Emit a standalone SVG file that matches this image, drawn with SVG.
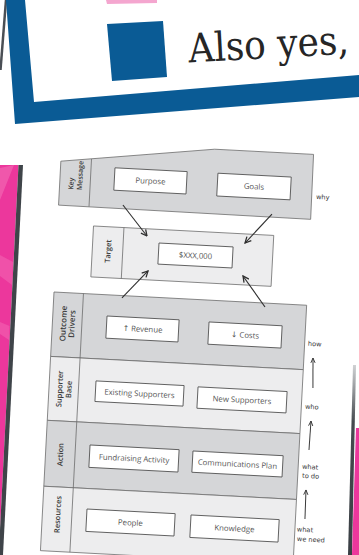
<svg xmlns="http://www.w3.org/2000/svg" width="359" height="555" viewBox="0 0 359 555">
<defs>
<style>
.rowd{fill:#d5d6d8;stroke:#6e6e6e;stroke-width:0.8}
.rowl{fill:#ededee;stroke:#6e6e6e;stroke-width:0.8}
.dv{stroke:#6e6e6e;stroke-width:0.8;fill:none}
.box{fill:#ffffff;stroke:#555;stroke-width:0.9}
.bt{font-family:"Open Sans","DejaVu Sans",sans-serif;font-size:7.8px;fill:#555;text-anchor:middle}
.lab{font-family:"Open Sans","DejaVu Sans",sans-serif;font-size:7.5px;font-weight:600;fill:#3a3a3a;text-anchor:middle}
.ann{font-family:"DejaVu Sans",sans-serif;font-size:6.6px;fill:#3a3a3a}
.arr{stroke:#2e2e2e;stroke-width:1.1;fill:none;marker-end:url(#ah)}
.ar2{stroke:#3a3a3a;stroke-width:1;fill:none;marker-end:url(#ah2)}
</style>
<marker id="ah" viewBox="0 0 10 10" refX="9" refY="5" markerWidth="7.5" markerHeight="7.5" orient="auto" markerUnits="userSpaceOnUse"><path d="M1,1 L9,5 L1,9" fill="none" stroke="#2e2e2e" stroke-width="1.7"/></marker>
<marker id="ah2" viewBox="0 0 10 10" refX="9" refY="5" markerWidth="6" markerHeight="6" orient="auto" markerUnits="userSpaceOnUse"><path d="M1,1.5 L9,5 L1,8.5" fill="none" stroke="#3a3a3a" stroke-width="1.6"/></marker>
<clipPath id="kmclip"><polygon points="0,-131 30.5,-135 30.5,-87 0,-87"/></clipPath>
<linearGradient id="edgeR" x1="0" y1="0" x2="0" y2="1"><stop offset="0" stop-color="#d0d2d4"/><stop offset="0.3" stop-color="#454a4f"/><stop offset="1" stop-color="#3a3f44"/></linearGradient>
</defs>
<rect width="359" height="555" fill="#ffffff"/>

<!-- poster at top -->
<g id="poster">
<line x1="6" y1="0" x2="0.5" y2="70" stroke="#4a4f55" stroke-width="2.5"/>
<polygon points="106,0 157,0 157,3 107,4" fill="#f4a6cf"/>
<polygon points="6,0 25,0 34,102 359,75 359,97 15,124" fill="#0a5b95"/>
<polygon points="107,24 163,21 167,77 112,81" fill="#0a5b95"/>
<text x="189" y="62.5" transform="rotate(-3.2 189 62.5)" font-family="'DejaVu Serif Condensed','DejaVu Serif',serif" font-stretch="condensed" font-size="40" fill="#262626">Also yes,</text>
</g>

<!-- background edges -->
<g id="edges">
<polygon points="0,165 18.5,165 0,530" fill="#ec379c"/>
<polygon points="0,168 14,165 0,200" fill="#f36cb6" opacity="0.6"/>
<polygon points="0,255 13,262 12,285 0,276" fill="#f36cb6" opacity="0.5"/>
<polygon points="0,322 9.5,326 9,340 0,334" fill="#f36cb6" opacity="0.5"/>
<polygon points="18.5,165 23,165 3,555 0,555 0,530" fill="#3f4449"/>
<polygon points="353,365 356,365 352,555 348,555" fill="url(#edgeR)"/>
<polygon points="356,428 359,428 359,555 352,555" fill="#ec379c"/>
</g>

<g id="diagram" transform="translate(54,292) rotate(3)">
<g id="key-message">
<polygon class="rowd" points="0,-131 30.5,-135 153,-151 252,-151 252.5,-86 0,-87"/>
<line class="dv" x1="30.5" y1="-135" x2="30.5" y2="-87"/>
<g clip-path="url(#kmclip)"><text class="lab" style="text-anchor:start;font-size:7px" transform="rotate(-90)"><tspan x="103" y="14">Key</tspan><tspan x="103" y="22.5">Message</tspan></text></g>
</g>
<g id="target">
<rect class="rowl" x="36" y="-68" width="180.5" height="51"/>
<line class="dv" x1="66.5" y1="-68" x2="66.5" y2="-17"/>
<text class="lab" transform="rotate(-90)" x="43.5" y="54.5">Target</text>
</g>
<g id="outcome-drivers">
<rect class="rowd" x="0" y="0" width="253" height="64.5"/>
<text class="lab" style="font-size:8px" transform="rotate(-90)"><tspan x="-31" y="13.8">Outcome</tspan><tspan x="-31" y="22.3">Drivers</tspan></text>
</g>
<g id="supporter-base">
<rect class="rowl" x="0" y="64.5" width="253" height="64"/>
<text class="lab" transform="rotate(-90)"><tspan x="-96.5" y="13.3">Supporter</tspan><tspan x="-96.5" y="22.5">Base</tspan></text>
</g>
<g id="action">
<rect class="rowd" x="0" y="128.5" width="253" height="66"/>
<text class="lab" transform="rotate(-90)" x="-162" y="17.5">Action</text>
</g>
<g id="resources">
<rect class="rowl" x="0" y="194.5" width="253" height="64.5"/>
<text class="lab" transform="rotate(-90)" x="-222" y="18">Resources</text>
</g>
<line class="dv" x1="29.5" y1="0" x2="29.5" y2="259"/>

<g id="connectors">
<line class="arr" x1="64.3" y1="-90.5" x2="89.9" y2="-60.8"/>
<line class="arr" x1="213.6" y1="-89.3" x2="188.2" y2="-58.9"/>
<line class="arr" x1="68.2" y1="2.4" x2="92.8" y2="-25.9"/>
<line class="arr" x1="211.5" y1="3.9" x2="187.9" y2="-25.9"/>
<line class="ar2" x1="263.6" y1="82.4" x2="262.1" y2="52.4"/>
<line class="ar2" x1="262.9" y1="144.5" x2="263.4" y2="115.4"/>
<line class="ar2" x1="262.5" y1="213.6" x2="262" y2="184.5"/>
</g>

<g id="purpose"><rect class="box" x="54.4" y="-127.2" width="72.3" height="22.4"/><text class="bt" x="90.5" y="-113.2">Purpose</text></g>
<g id="goals"><rect class="box" x="157.5" y="-127.2" width="73.4" height="22.8"/><text class="bt" x="194.2" y="-113">Goals</text></g>
<g id="amount"><rect class="box" x="102.3" y="-54.4" width="74.2" height="21.1"/><text class="bt" x="139.4" y="-41">$XXX,000</text></g>
<g id="revenue"><rect class="box" x="54.2" y="21.2" width="72.2" height="22.2"/><text class="bt" x="90.3" y="35.1">↑ Revenue</text></g>
<g id="costs"><rect class="box" x="156.4" y="21.8" width="73.2" height="22.3"/><text class="bt" x="193" y="35.8">↓ Costs</text></g>
<g id="existing-supporters"><rect class="box" x="46.6" y="86.6" width="88.2" height="20.6"/><text class="bt" x="90.7" y="99.7">Existing Supporters</text></g>
<g id="new-supporters"><rect class="box" x="148.8" y="87.2" width="89.2" height="21.4"/><text class="bt" x="193.4" y="100.7">New Supporters</text></g>
<g id="fundraising-activity"><rect class="box" x="44" y="150.9" width="89.2" height="22.4"/><text class="bt" x="88.6" y="164.9">Fundraising Activity</text></g>
<g id="communications-plan"><rect class="box" x="147.1" y="151.5" width="90.3" height="21.3"/><text class="bt" x="192.2" y="165">Communications Plan</text></g>
<g id="people"><rect class="box" x="44.3" y="215" width="88.3" height="22.4"/><text class="bt" x="88.4" y="229">People</text></g>
<g id="knowledge"><rect class="box" x="148.5" y="215.5" width="88.3" height="22.5"/><text class="bt" x="192.6" y="229.5">Knowledge</text></g>

<g id="annotations">
<text class="ann" x="256.7" y="-106.5">why</text>
<text class="ann" x="256.3" y="40.5">how</text>
<text class="ann" x="256.7" y="103.5">who</text>
<text class="ann"><tspan x="256.8" y="163.5">what</tspan><tspan x="257.5" y="172.5">to do</tspan></text>
<text class="ann"><tspan x="255" y="226.5">what</tspan><tspan x="255.5" y="236">we need</tspan></text>
</g>
</g>
</svg>
